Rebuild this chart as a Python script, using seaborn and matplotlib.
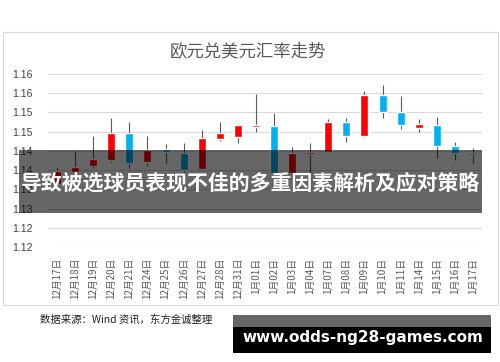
import numpy as np
import pandas as pd
import matplotlib
matplotlib.use('Agg')
import matplotlib.pyplot as plt
from matplotlib.patches import Rectangle
import seaborn as sns

# 欧元兑美元 日K数据
dates = ['12月17日', '12月18日', '12月19日', '12月20日', '12月21日', '12月24日',
         '12月25日', '12月26日', '12月27日', '12月28日', '12月31日', '1月01日',
         '1月02日', '1月03日', '1月04日', '1月07日', '1月08日', '1月09日',
         '1月10日', '1月11日', '1月14日', '1月15日', '1月16日', '1月17日']
open_ = [1.1363, 1.1395, 1.1410, 1.1426, 1.1496, 1.1421, 1.1455, 1.1444,
         1.1403, 1.1481, 1.1486, 1.1512, 1.1515, 1.1392, 1.1442, 1.1447,
         1.1525, 1.1489, 1.1595, 1.1551, 1.1509, 1.1517, 1.1462, 1.1444]
high = [1.1408, 1.1450, 1.1489, 1.1536, 1.1525, 1.1489, 1.1468, 1.1470,
        1.1504, 1.1525, 1.1520, 1.1598, 1.1548, 1.1460, 1.1470, 1.1533,
        1.1535, 1.1606, 1.1621, 1.1593, 1.1533, 1.1538, 1.1473, 1.1457]
low = [1.1350, 1.1387, 1.1405, 1.1421, 1.1405, 1.1410, 1.1418, 1.1392,
       1.1400, 1.1475, 1.1470, 1.1499, 1.1390, 1.1390, 1.1392, 1.1445,
       1.1473, 1.1487, 1.1535, 1.1507, 1.1499, 1.1431, 1.1426, 1.1418]
close = [1.1397, 1.1408, 1.1429, 1.1496, 1.1418, 1.1452, 1.1447, 1.1400,
         1.1483, 1.1496, 1.1517, 1.1517, 1.1392, 1.1444, 1.1447, 1.1525,
         1.1489, 1.1595, 1.1551, 1.1517, 1.1520, 1.1462, 1.1444, 1.1439]

yticks = [1.120, 1.125, 1.130, 1.135, 1.140, 1.145, 1.150, 1.155, 1.160, 1.165]
ytick_labels = ['1.12', '1.12', '1.13', '1.13', '1.14', '1.14', '1.15', '1.15', '1.16', '1.16']

df = pd.DataFrame({'date': dates, 'open': open_, 'high': high, 'low': low, 'close': close})
df['up'] = df['close'] >= df['open']
df['bottom'] = df[['open', 'close']].min(axis=1)
df['height'] = (df['close'] - df['open']).abs().clip(lower=0.0001)

sns.set_theme(style='white')
plt.rcParams['font.family'] = ['Noto Sans CJK SC', 'DejaVu Sans']

fig = plt.figure(figsize=(5, 3.62), dpi=100)
ax = fig.add_axes([0.096, 0.3177, 0.868, 0.478])

x = np.arange(len(df))
ax.vlines(x, df['low'], df['high'], color='#595959', lw=0.8, zorder=2)
ax.bar(x, df['height'], bottom=df['bottom'], width=0.44,
       color=np.where(df['up'], '#FF0000', '#00B0F0'), zorder=3)

ax.set_xlim(-0.5, len(df) - 0.5)
ax.set_ylim(1.120, 1.165)
ax.set_yticks(yticks)
ax.set_yticklabels(ytick_labels, fontsize=7.5, color='#404040', family='Liberation Sans')
ax.set_xticks(x)
ax.set_xticklabels(dates, rotation=90, fontsize=7, color='#595959')
ax.tick_params(axis='x', length=0, pad=8)
ax.tick_params(axis='y', length=0, pad=10.8)
ax.yaxis.grid(True, color='#d9d9d9', lw=0.8)
ax.set_axisbelow(True)
sns.despine(ax=ax, left=True, bottom=True)

# 外框与标题
fig.add_artist(Rectangle((0.006, 0.1575), 0.99, 0.754, transform=fig.transFigure,
                         fill=False, edgecolor='#d9d9d9', lw=0.8))
fig.text(0.496, 0.859, '欧元兑美元汇率走势', ha='center', va='center',
         fontsize=12.5, color='#595959')
fig.text(0.08, 0.116, '数据来源：Wind 资讯，东方金诚整理', ha='left', va='center',
         fontsize=7.5, color='#222222')

# 横幅
fig.add_artist(Rectangle((0.038, 0.4116), 0.926, 0.174, transform=fig.transFigure,
                         color='black', alpha=0.6, lw=0, zorder=10))
fig.text(0.501, 0.4945, '导致被选球员表现不佳的多重因素解析及应对策略', ha='center', va='center',
         fontsize=15, color='white', fontweight='bold', zorder=11)

# 水印
fig.add_artist(Rectangle((0.466, 0.0967), 0.516, 0.0331, transform=fig.transFigure,
                         color='#666666', lw=0, zorder=10))
fig.add_artist(Rectangle((0.466, 0.0249), 0.516, 0.0718, transform=fig.transFigure,
                         color='black', lw=0, zorder=10))
fig.text(0.725, 0.069, 'www.odds-ng28-games.com', ha='center', va='center',
         fontsize=11, color='white', fontweight='bold', family='DejaVu Sans', zorder=11)

fig.savefig('out.png', dpi=100)
